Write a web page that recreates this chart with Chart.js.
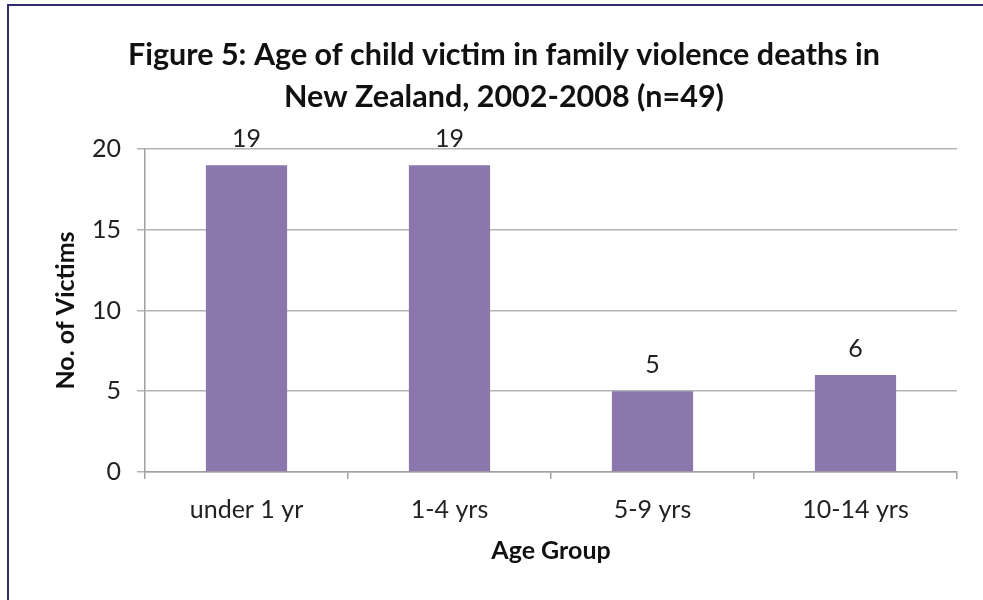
<!DOCTYPE html>
<html>
<head>
<meta charset="utf-8">
<script src="https://cdn.jsdelivr.net/npm/chart.js@4.4.1/dist/chart.umd.min.js"></script>
<style>
  html, body { margin: 0; padding: 0; background: #fff; }
  #wrap { position: relative; width: 983px; height: 600px; }
  #frame { position: absolute; left: 7px; top: 4px; right: 0; bottom: 0;
           border-left: 2px solid #2f2f6b; border-top: 2px solid #2f2f6b; pointer-events: none; }
  canvas { position: absolute; left: 0; top: 0; }
</style>
</head>
<body>
<div id="wrap">
  <canvas id="c" width="983" height="600"></canvas>
  <div id="frame"></div>
</div>
<script>
const categories = ["under 1 yr", "1-4 yrs", "5-9 yrs", "10-14 yrs"];
const victims = [19, 19, 5, 6];
const titleLines = ["Figure 5: Age of child victim in family violence deaths in", "New Zealand, 2002-2008 (n=49)"];
const yTitle = "No. of Victims";
const xTitle = "Age Group";

const FONT = "Lato, 'Open Sans', sans-serif";

const valueLabels = {
  id: 'valueLabels',
  afterDatasetsDraw(chart) {
    const ctx = chart.ctx;
    const meta = chart.getDatasetMeta(0);
    ctx.save();
    ctx.font = "25px " + FONT;
    ctx.fillStyle = "#222";
    ctx.textAlign = "center";
    ctx.textBaseline = "middle";
    meta.data.forEach((bar, i) => {
      ctx.fillText(String(chart.data.datasets[0].data[i]), bar.x, bar.y - 26);
    });
    ctx.restore();
  }
};

new Chart(document.getElementById('c'), {
  type: 'bar',
  data: {
    labels: categories,
    datasets: [{
      data: victims,
      backgroundColor: '#8b77ab',
      borderWidth: 0,
      barPercentage: 0.4,
      categoryPercentage: 1.0
    }]
  },
  options: {
    responsive: false,
    animation: false,
    layout: { padding: { left: 51, right: 26, top: 34, bottom: 34 } },
    plugins: {
      legend: { display: false },
      tooltip: { enabled: false },
      title: {
        display: true,
        text: titleLines,
        color: '#111',
        font: { family: FONT, size: 30.5, weight: 'bold', lineHeight: 1.377 },
        padding: { top: 0, bottom: 31 }
      }
    },
    scales: {
      y: {
        min: 0, max: 20,
        ticks: { stepSize: 5, color: '#222', font: { family: FONT, size: 25 }, padding: 16 },
        grid: { color: '#b3b3b3', lineWidth: 1.5, tickLength: 8, drawTicks: true },
        border: { color: '#a0a0a0', width: 1.5 },
        title: { display: true, text: yTitle, color: '#111', font: { family: FONT, size: 25, weight: 'bold' }, padding: { top: 0, bottom: -5 } }
      },
      x: {
        offset: true,
        ticks: { color: '#222', font: { family: FONT, size: 25 }, padding: 16 },
        grid: { offset: true, drawOnChartArea: false, drawTicks: true, tickLength: 7, color: '#a0a0a0', lineWidth: 1.5 },
        border: { color: '#a0a0a0', width: 1.5 },
        title: { display: true, text: xTitle, color: '#111', font: { family: FONT, size: 25, weight: 'bold' }, padding: { top: -5, bottom: 0 } }
      }
    }
  },
  plugins: [valueLabels]
});
</script>
</body>
</html>
